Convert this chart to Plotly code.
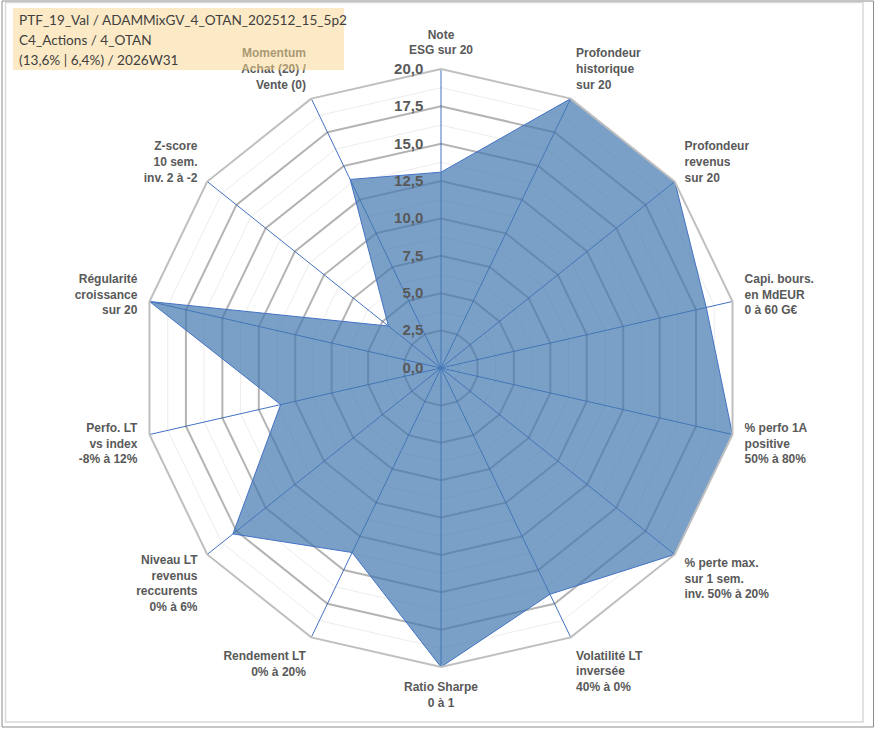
import numpy as np
import plotly.graph_objects as go

W, H = 875, 729

categories = [
    "Note ESG", "Profondeur historique", "Profondeur revenus", "Capi. bours.",
    "% perfo 1A", "% perte max.", "Volatilité LT", "Ratio Sharpe",
    "Rendement LT", "Niveau LT", "Perfo. LT", "Régularité", "Z-score", "Momentum",
]
tick_labels = [
    "Note<br>ESG sur 20",
    "Profondeur<br>historique<br>sur 20",
    "Profondeur<br>revenus<br>sur 20",
    "Capi. bours.<br>en MdEUR<br>0 à 60 G€",
    "% perfo 1A<br>positive<br>50% à 80%",
    "% perte max.<br>sur 1 sem.<br>inv. 50% à 20%",
    "Volatilité LT<br>inversée<br>40% à 0%",
    "Ratio Sharpe<br>0 à 1",
    "Rendement LT<br>0% à 20%",
    "Niveau LT<br>revenus<br>reccurents<br>0% à 6%",
    "Perfo. LT<br>vs index<br>-8% à 12%",
    "Régularité<br>croissance<br>sur 20",
    "Z-score<br>10 sem.<br>inv. 2 à -2",
    "Momentum<br>Achat (20) /<br>Vente (0)",
]
values = [13.1, 20.0, 20.0, 18.2, 20.0, 20.0, 16.8, 20.0, 13.7, 17.8, 11.0, 20.0, 4.5, 14.0]

radial_ticks = [0, 2.5, 5, 7.5, 10, 12.5, 15, 17.5, 20]
radial_labels = ["0,0", "2,5", "5,0", "7,5", "10,0", "12,5", "15,0", "17,5", "20,0"]
minor_ticks = [1.25, 3.75, 6.25, 8.75, 11.25, 13.75, 16.25, 18.75]

title_lines = [
    "PTF_19_Val / ADAMMixGV_4_OTAN_202512_15_5p2",
    "C4_Actions / 4_OTAN",
    "(13,6% | 6,4%) / 2026W31",
]

fig = go.Figure()

closed_theta = categories + [categories[0]]
# minor grid polygons (below the series)
for r in minor_ticks:
    fig.add_trace(go.Scatterpolar(
        r=[r] * len(closed_theta), theta=closed_theta, mode="lines",
        line=dict(color="rgba(0,0,0,0.08)", width=1),
        hoverinfo="skip", showlegend=False,
    ))

fig.add_trace(go.Scatterpolar(
    r=values + [values[0]], theta=closed_theta, mode="lines",
    fill="toself", fillcolor="rgba(66,119,176,0.70)",
    line=dict(color="#4472C4", width=1),
    showlegend=False,
))

# polar placement in pixels
cx, cy, R = 441, 368, 299
fig.update_layout(
    width=W, height=H,
    margin=dict(l=0, r=0, t=0, b=0),
    paper_bgcolor="white",
    showlegend=False,
    polar=dict(
        domain=dict(x=[(cx - R) / W, (cx + R) / W],
                    y=[(H - cy - R) / H, (H - cy + R) / H]),
        bgcolor="white",
        gridshape="linear",
        radialaxis=dict(
            range=[0, 20], tickvals=radial_ticks,
            ticktext=["<b>" + t + "</b>" for t in radial_labels],
            angle=90, side="counterclockwise", tickangle=90,
            showline=False,
            ticks="outside", ticklen=12, tickcolor="rgba(0,0,0,0)",
            gridcolor="rgba(89,89,89,0.45)", gridwidth=2,
            tickfont=dict(family="Liberation Sans", size=15, color="#595959"),
            layer="above traces",
        ),
        angularaxis=dict(
            type="category", categoryarray=categories,
            tickvals=categories, ticktext=["<b>" + t + "</b>" for t in tick_labels],
            direction="clockwise", rotation=90,
            showline=True, linecolor="#BFBFBF", linewidth=2,
            gridcolor="#4472C4", gridwidth=1,
            ticks="outside", ticklen=9, tickcolor="rgba(0,0,0,0)",
            tickfont=dict(family="Liberation Sans", size=12, color="#595959"),
            layer="above traces",
        ),
    ),
)

def px(x):
    return x / W

def py(y):
    return 1 - y / H

shapes = [
    dict(type="rect", xref="paper", yref="paper",
         x0=px(13), x1=px(344), y0=py(8), y1=py(70),
         fillcolor="rgba(250,213,142,0.5)", line=dict(width=0), layer="above"),
    dict(type="rect", xref="paper", yref="paper",
         x0=px(5.5), x1=px(863), y0=py(2.5), y1=py(722),
         fillcolor="rgba(0,0,0,0)", line=dict(color="#D9D9D9", width=1.5), layer="above"),
    dict(type="rect", xref="paper", yref="paper",
         x0=px(2), x1=px(873.5), y0=py(1), y1=py(727),
         fillcolor="rgba(0,0,0,0)", line=dict(color="#8C8C8C", width=1), layer="above"),
]
fig.update_layout(shapes=shapes)

for i, line in enumerate(title_lines):
    fig.add_annotation(
        xref="paper", yref="paper", x=px(17), y=py(20 + 20 * i),
        xanchor="left", yanchor="middle", align="left", showarrow=False,
        text=line,
        font=dict(family="Lato", size=13.6, color="#404040"),
    )

fig.write_html("out.html", config={"displayModeBar": False},
               post_script="document.body.style.margin='0';")
